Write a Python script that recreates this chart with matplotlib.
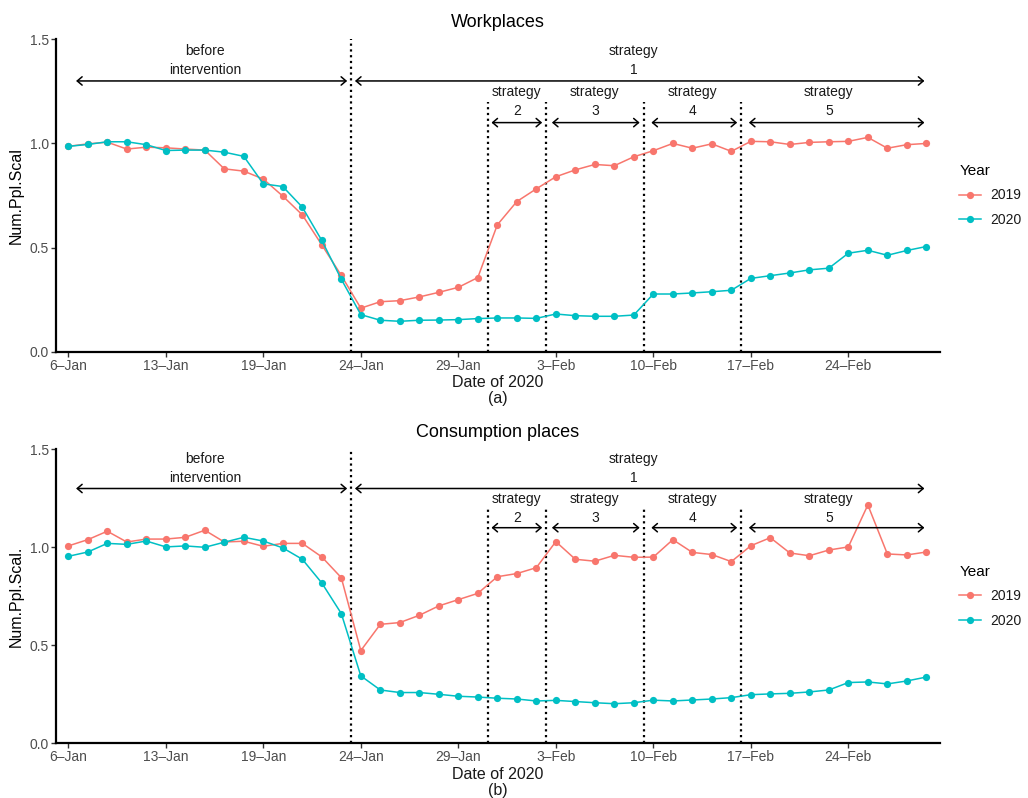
import matplotlib
matplotlib.use("Agg")
import matplotlib.pyplot as plt

plt.rcParams['font.family'] = ['Liberation Sans', 'DejaVu Sans']

# ---------------- data ----------------
tick_labels = ["6–Jan", "13–Jan", "19–Jan", "24–Jan", "29–Jan",
               "3–Feb", "10–Feb", "17–Feb", "24–Feb"]
tick_index = [0, 5, 10, 15, 20, 25, 30, 35, 40]

work_2019 = [0.986, 0.998, 1.006, 0.973, 0.982, 0.979, 0.973, 0.968, 0.878, 0.867,
             0.829, 0.747, 0.657, 0.513, 0.366, 0.209, 0.240, 0.245, 0.263, 0.285,
             0.309, 0.356, 0.609, 0.721, 0.782, 0.840, 0.873, 0.899, 0.893, 0.936,
             0.965, 1.000, 0.977, 0.998, 0.962, 1.010, 1.008, 0.995, 1.005, 1.008,
             1.010, 1.029, 0.977, 0.994, 1.000]
work_2020 = [0.986, 0.995, 1.008, 1.008, 0.994, 0.966, 0.968, 0.968, 0.958, 0.938,
             0.806, 0.793, 0.694, 0.534, 0.348, 0.178, 0.151, 0.146, 0.151, 0.152,
             0.154, 0.159, 0.162, 0.162, 0.160, 0.181, 0.173, 0.170, 0.170, 0.176,
             0.277, 0.277, 0.282, 0.288, 0.295, 0.352, 0.365, 0.378, 0.393, 0.401,
             0.473, 0.487, 0.463, 0.486, 0.505]
cons_2019 = [1.007, 1.039, 1.082, 1.027, 1.042, 1.042, 1.051, 1.087, 1.027, 1.031,
             1.005, 1.020, 1.020, 0.951, 0.845, 0.473, 0.607, 0.616, 0.653, 0.701,
             0.733, 0.765, 0.850, 0.866, 0.896, 1.029, 0.939, 0.929, 0.959, 0.949,
             0.950, 1.039, 0.974, 0.963, 0.927, 1.008, 1.049, 0.971, 0.957, 0.986,
             1.002, 1.216, 0.966, 0.961, 0.976]
cons_2020 = [0.954, 0.976, 1.020, 1.015, 1.032, 1.002, 1.007, 1.000, 1.026, 1.051,
             1.032, 0.997, 0.939, 0.818, 0.662, 0.344, 0.272, 0.259, 0.259, 0.250,
             0.240, 0.236, 0.230, 0.226, 0.216, 0.219, 0.213, 0.207, 0.202, 0.207,
             0.220, 0.216, 0.221, 0.226, 0.233, 0.248, 0.252, 0.255, 0.262, 0.272,
             0.310, 0.313, 0.303, 0.318, 0.338]

days = list(range(len(work_2019)))
years = ["2019", "2020"]
colors = ["#F8766D", "#00BFC4"]

boundaries = [14.5, 21.5, 24.5, 29.5, 34.5]
boundary_tops = [1.5, 1.2, 1.2, 1.2, 1.2]
# (label, arrow start, arrow end, arrow y, text x, text y)
periods = [
    ("before\nintervention", 0.4, 14.3, 1.3, 7.0, 1.4),
    ("strategy\n1", 14.7, 43.9, 1.3, 29.0, 1.4),
    ("strategy\n2", 21.7, 24.3, 1.1, 23.0, 1.2),
    ("strategy\n3", 24.8, 29.3, 1.1, 27.0, 1.2),
    ("strategy\n4", 29.9, 34.3, 1.1, 32.0, 1.2),
    ("strategy\n5", 34.9, 43.9, 1.1, 39.0, 1.2),
]

panels = [
    ("Workplaces", "Num.Ppl.Scal", "(a)", work_2019, work_2020),
    ("Consumption places", "Num.Ppl.Scal.", "(b)", cons_2019, cons_2020),
]

# ---------------- figure ----------------
fig = plt.figure(figsize=(10.28, 7.98), dpi=100)
W, H = 1028, 798
axes_px = [(56, 940, 39.3, 351.7), (56, 940, 449.3, 743.3)]

for (title, ylab, tag, s19, s20), (x0, x1, yt, yb) in zip(panels, axes_px):
    ax = fig.add_axes([x0 / W, (H - yb) / H, (x1 - x0) / W, (yb - yt) / H])
    for vals, yr, c in zip([s19, s20], years, colors):
        ax.plot(days, vals, color=c, lw=1.1, marker='o', markersize=5.2,
                markeredgewidth=0, label=yr, zorder=3)
    ax.vlines(boundaries, 0, boundary_tops, colors='black', lw=1.6,
              linestyles=[(0, (1, 1.6))], zorder=2)
    for lab, a0, a1, ay, tx, ty in periods:
        ax.annotate("", xy=(a1, ay), xytext=(a0, ay),
                    arrowprops=dict(arrowstyle="<->,head_length=0.35,head_width=0.3",
                                    lw=1.1, color='black', shrinkA=0, shrinkB=0,
                                    mutation_scale=10))
        ax.text(tx, ty, lab, ha='center', va='center', fontsize=10,
                linespacing=1.45, color='#1a1a1a')
    ax.set_xlim(-0.63, 44.7)
    ax.set_ylim(0, 1.5)
    ax.set_xticks(tick_index)
    ax.set_xticklabels(tick_labels)
    ax.set_yticks([0.0, 0.5, 1.0, 1.5])
    ax.set_yticklabels(["0.0", "0.5", "1.0", "1.5"])
    ax.tick_params(axis='both', colors='#333333', labelcolor='#4D4D4D',
                   labelsize=10, length=3.5, width=1.0, pad=1.5)
    for s in ['top', 'right']:
        ax.spines[s].set_visible(False)
    for s in ['left', 'bottom']:
        ax.spines[s].set_linewidth(1.6)
        ax.spines[s].set_color('black')
    ax.set_title(title, fontsize=13, pad=9, color='black')
    ax.set_xlabel("Date of 2020\n" + tag, fontsize=11.5, linespacing=1.05,
                  labelpad=2, color='#1a1a1a')
    ax.set_ylabel(ylab, fontsize=11.5, labelpad=4, color='black')
    leg = ax.legend(title="Year", loc='center left', bbox_to_anchor=(1.022, 0.5),
                    frameon=False, fontsize=10, title_fontsize=11,
                    handlelength=1.55, handletextpad=0.7, labelspacing=0.75,
                    borderpad=0, borderaxespad=0, alignment='left')
    for t in leg.get_texts():
        t.set_color('#1a1a1a')

fig.savefig("out.png", dpi=100)
